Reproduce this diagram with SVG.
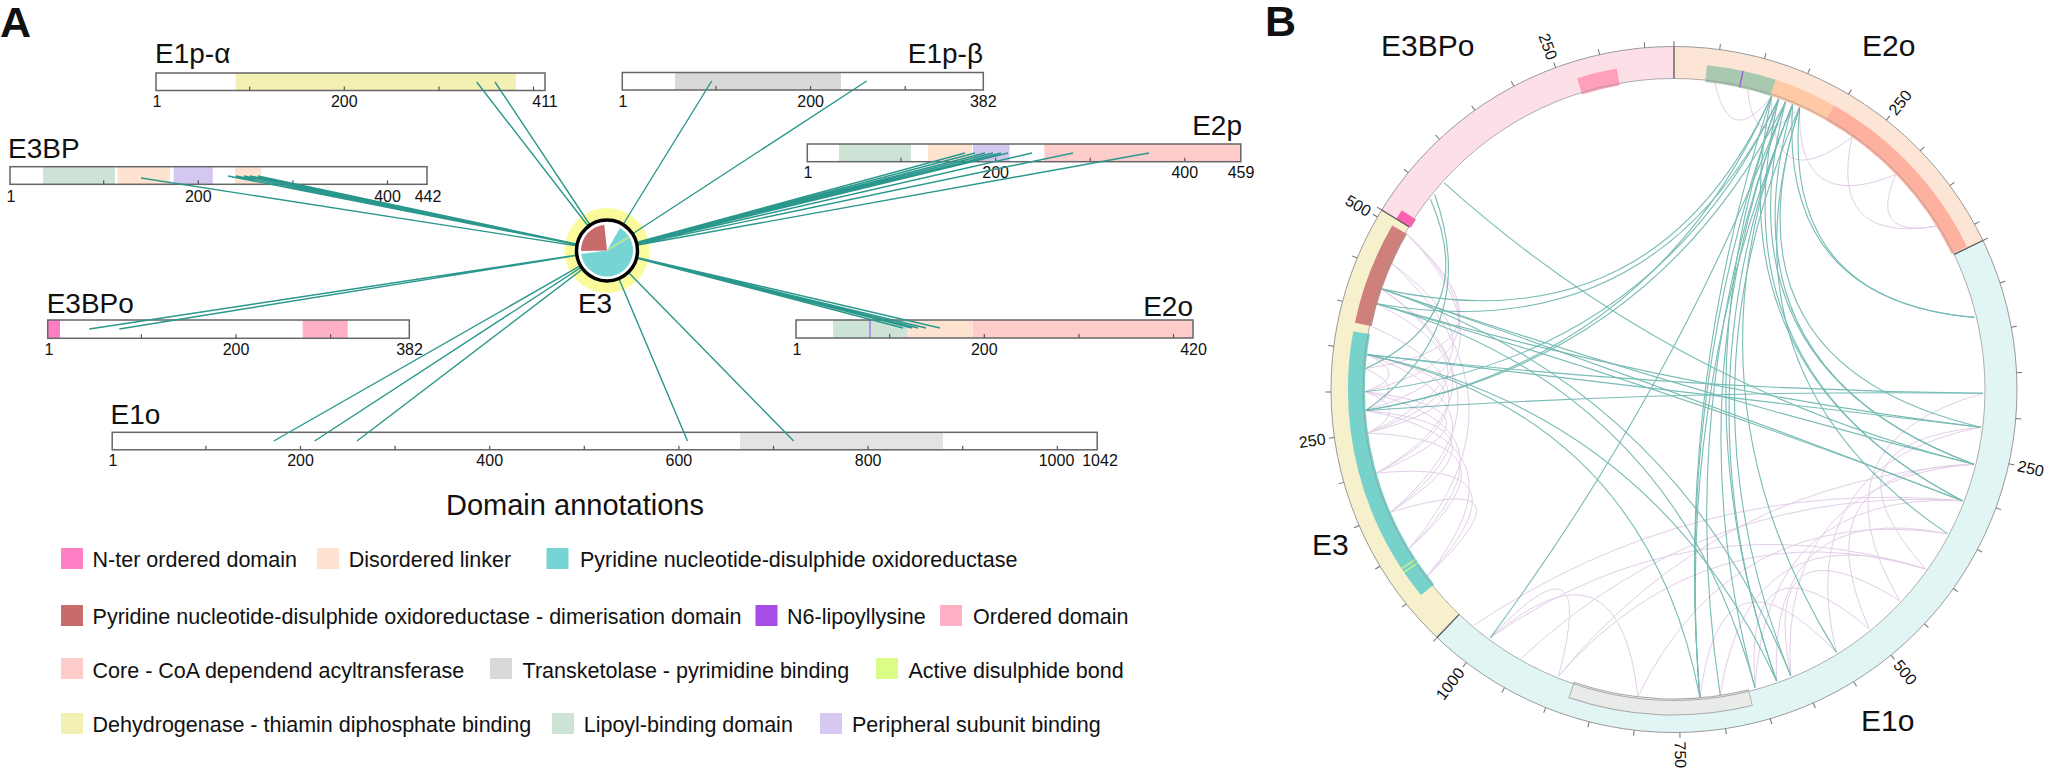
<svg xmlns="http://www.w3.org/2000/svg" width="2047" height="771" viewBox="0 0 2047 771">
<style>
text{font-family:"Liberation Sans",Arial,Helvetica,sans-serif;fill:#111}
.lbl{font-size:28px}
.tk{font-size:16px;text-anchor:middle}
.bar{fill:none;stroke:#666;stroke-width:1.5}
.bt{stroke:#555;stroke-width:1.2;fill:none}
.lnk{stroke:#2a978c;stroke-width:1.4;fill:none}
.leg{font-size:21.5px}
.tc{stroke:#3a9d93;stroke-width:1.1;fill:none;opacity:.68}
.pc{stroke:#c8a0d2;stroke-width:1;fill:none;opacity:.5}
.seg{fill:none;stroke-width:32}
.band{fill:none;stroke-width:17}
.ctk{font-size:16px;dominant-baseline:central}
.cl{font-size:30px}
.big{font-size:43px;font-weight:bold}
</style>
<defs>
<line id="ctick" x1="1674" y1="46.5" x2="1674" y2="41" stroke="#707070" stroke-width="1"/>
<line id="cbd" x1="1674" y1="78.5" x2="1674" y2="46.5" stroke="#555" stroke-width="1.3"/>
</defs>
<rect width="2047" height="771" fill="#fff"/>
<text class="big" x="0" y="37">A</text>
<text class="big" x="1265" y="36">B</text>

<g id="E1p-alpha">
<text class="lbl" x="155" y="63">E1p-α</text>
<rect x="156" y="73" width="389" height="17.5" fill="#fff"/>
<rect x="235.7" y="73" width="280.3" height="17.5" fill="#f2f0b2"/>
<rect class="bar" x="156" y="73" width="389" height="17.5"/>
<path class="bt" d="M249.7 90.5v-4M344.3 90.5v-4M438.9 90.5v-4M533.5 90.5v-4"/>
<text class="tk" x="157" y="107">1</text><text class="tk" x="344.3" y="107">200</text><text class="tk" x="545" y="107">411</text>
</g>
<g id="E1p-beta">
<text class="lbl" x="983" y="63" text-anchor="end">E1p-β</text>
<rect x="622.3" y="72.5" width="361" height="17.5" fill="#fff"/>
<rect x="675" y="72.5" width="166" height="17.5" fill="#d9d9d9"/>
<rect class="bar" x="622.3" y="72.5" width="361" height="17.5"/>
<path class="bt" d="M716 90v-4M810.6 90v-4M905.2 90v-4"/>
<text class="tk" x="623" y="107">1</text><text class="tk" x="810.6" y="107">200</text><text class="tk" x="983.3" y="107">382</text>
</g>
<g id="E3BP">
<text class="lbl" x="8" y="158">E3BP</text>
<rect x="10" y="166.7" width="417" height="17.6" fill="#fff"/>
<rect x="43" y="166.7" width="72" height="17.6" fill="#cce3d5"/>
<rect x="117.5" y="166.7" width="52.5" height="17.6" fill="#ffe3d1"/>
<rect x="173.6" y="166.7" width="39.2" height="17.6" fill="#d5c8f0"/>
<rect x="235" y="166.7" width="26" height="17.6" fill="#ffe3d1"/>
<rect class="bar" x="10" y="166.7" width="417" height="17.6"/>
<path class="bt" d="M103.7 184.3v-4M198.3 184.3v-4M292.9 184.3v-4M387.5 184.3v-4"/>
<text class="tk" x="11" y="201.5">1</text><text class="tk" x="198.3" y="201.5">200</text><text class="tk" x="387.5" y="201.5">400</text><text class="tk" x="428" y="201.5">442</text>
</g>
<g id="E2p">
<text class="lbl" x="1242" y="135" text-anchor="end">E2p</text>
<rect x="807.3" y="144" width="433.5" height="17.7" fill="#fff"/>
<rect x="839" y="144" width="72" height="17.7" fill="#cce3d5"/>
<rect x="928" y="144" width="44" height="17.7" fill="#ffe3d1"/>
<rect x="973" y="144" width="36.6" height="17.7" fill="#d5c8f0"/>
<rect x="1044.3" y="144" width="196.5" height="17.7" fill="#ffcccc"/>
<rect class="bar" x="807.3" y="144" width="433.5" height="17.7"/>
<path class="bt" d="M901 161.7v-4M995.6 161.7v-4M1090.2 161.7v-4M1184.8 161.7v-4"/>
<text class="tk" x="808" y="178">1</text><text class="tk" x="995.6" y="178">200</text><text class="tk" x="1184.8" y="178">400</text><text class="tk" x="1241" y="178">459</text>
</g>
<g id="E3BPo">
<text class="lbl" x="46.7" y="313">E3BPo</text>
<rect x="47.7" y="320" width="361.6" height="18.3" fill="#fff"/>
<rect x="47.7" y="320" width="12.3" height="18.3" fill="#ff7ec4"/>
<rect x="302.7" y="320" width="45" height="18.3" fill="#ffb0c5"/>
<rect class="bar" x="47.7" y="320" width="361.6" height="18.3"/>
<path class="bt" d="M141.4 338.3v-4M236 338.3v-4M330.6 338.3v-4"/>
<text class="tk" x="49" y="354.5">1</text><text class="tk" x="236" y="354.5">200</text><text class="tk" x="409.5" y="354.5">382</text>
</g>
<g id="E2o">
<text class="lbl" x="1193" y="315.5" text-anchor="end">E2o</text>
<rect x="796" y="320" width="397" height="18" fill="#fff"/>
<rect x="833" y="320" width="74.7" height="18" fill="#cce3d5"/>
<rect x="907.7" y="320" width="65" height="18" fill="#ffe3d1"/>
<rect x="972.7" y="320" width="220.3" height="18" fill="#ffcccc"/>
<rect x="869.2" y="320" width="1.6" height="18" fill="#b07ee8"/>
<rect class="bar" x="796" y="320" width="397" height="18"/>
<path class="bt" d="M889.7 338v-4M984.3 338v-4M1078.9 338v-4M1173.5 338v-4"/>
<text class="tk" x="797" y="354.5">1</text><text class="tk" x="984.3" y="354.5">200</text><text class="tk" x="1193.5" y="354.5">420</text>
</g>
<g id="E1o">
<text class="lbl" x="110.6" y="424">E1o</text>
<rect x="112.2" y="432.3" width="985" height="17.5" fill="#fff"/>
<rect x="740" y="432.3" width="203" height="17.5" fill="#e3e3e3"/>
<rect class="bar" x="112.2" y="432.3" width="985" height="17.5"/>
<path class="bt" d="M205.9 449.8v-4M300.5 449.8v-4M395.1 449.8v-4M489.7 449.8v-4M584.3 449.8v-4M678.9 449.8v-4M773.5 449.8v-4M868.1 449.8v-4M962.7 449.8v-4M1057.3 449.8v-4"/>
<text class="tk" x="113" y="466">1</text><text class="tk" x="300.5" y="466">200</text><text class="tk" x="489.7" y="466">400</text><text class="tk" x="678.9" y="466">600</text><text class="tk" x="868.1" y="466">800</text><text class="tk" x="1056.5" y="466">1000</text><text class="tk" x="1100" y="466">1042</text>
</g>

<g id="E3-halo"><circle cx="607" cy="250.5" r="42.5" fill="#fbfb9c"/></g>

<g id="connectors-A" class="lnk">
<path d="M476.7 82L607 250.5M495 82L607 250.5"/>
<path d="M711.7 81L607 250.5M866.7 81L607 250.5"/>
<path d="M141 178L607 250.5M228 176L607 250.5M236 176L607 250.5M244 176L607 250.5M250 176L607 250.5M258 176L607 250.5"/>
<path d="M965 153L607 250.5M975 153L607 250.5M985 153L607 250.5M993 153L607 250.5M1001 153L607 250.5M1008 153L607 250.5M1032 153L607 250.5M1073 153L607 250.5M1149 153L607 250.5"/>
<path d="M89.3 329L607 250.5M119.3 329L607 250.5"/>
<path d="M903 328L607 250.5M912 328L607 250.5M918 328L607 250.5M926 328L607 250.5M940 328L607 250.5"/>
<path d="M273.8 441L607 250.5M314.6 441L607 250.5M357 441L607 250.5M687.5 441L607 250.5M793.7 441L607 250.5"/>
</g>

<g id="E3">
<circle cx="607" cy="250.5" r="30.5" fill="#fff" stroke="#000" stroke-width="3.5"/>
<path d="M607 250.5L620 227.98A26 26 0 1 1 581.25 254.12Z" fill="#76d4d4"/>
<path d="M607 250.5L581 250.95A26 26 0 0 1 604.28 224.64Z" fill="#c96b6b"/>
<path d="M607 250.5L628.7 236.2M607 250.5L629.5 237.5" stroke="#d8f080" stroke-width="0.8"/>
<text class="lbl" x="595" y="313" text-anchor="middle">E3</text>
</g>

<g id="legend">
<text x="575" y="515" text-anchor="middle" style="font-size:29px">Domain annotations</text>
<rect x="61" y="548" width="22" height="21" fill="#ff7ec4"/><text class="leg" x="92.6" y="566.5">N-ter ordered domain</text>
<rect x="317" y="548" width="22" height="21" fill="#ffe2cf"/><text class="leg" x="348.7" y="566.5">Disordered linker</text>
<rect x="546.5" y="548" width="22" height="21" fill="#76d4d4"/><text class="leg" x="580" y="566.5">Pyridine nucleotide-disulphide oxidoreductase</text>
<rect x="61" y="605" width="22" height="21" fill="#c96b6b"/><text class="leg" x="92.6" y="624">Pyridine nucleotide-disulphide oxidoreductase - dimerisation domain</text>
<rect x="755.5" y="605" width="22" height="21" fill="#a64de8"/><text class="leg" x="787" y="624">N6-lipoyllysine</text>
<rect x="940" y="605" width="22" height="21" fill="#ffb0c5"/><text class="leg" x="973" y="624">Ordered domain</text>
<rect x="61" y="658" width="22" height="21" fill="#ffcccc"/><text class="leg" x="92.6" y="678">Core - CoA dependend acyltransferase</text>
<rect x="490" y="658" width="22" height="21" fill="#d9d9d9"/><text class="leg" x="522.6" y="678">Transketolase - pyrimidine binding</text>
<rect x="876" y="658" width="22" height="21" fill="#dcfc88"/><text class="leg" x="908.5" y="678">Active disulphide bond</text>
<rect x="61" y="713" width="22" height="21" fill="#f2f0b2"/><text class="leg" x="92.6" y="732">Dehydrogenase - thiamin diphosphate binding</text>
<rect x="552" y="713" width="22" height="21" fill="#cce3d5"/><text class="leg" x="583.7" y="732">Lipoyl-binding domain</text>
<rect x="820" y="713" width="22" height="21" fill="#d6c8f0"/><text class="leg" x="852" y="732">Peripheral subunit binding</text>
</g>

<g id="chords">
<g class="pc">
<path d="M1427.5 575.9Q1538 457 1376.5 473.1"/>
<path d="M1409.1 548.6Q1530.5 429.8 1365 391.7"/>
<path d="M1390.4 512.2Q1526.4 411.4 1367 354.5"/>
<path d="M1409.1 548.6Q1531.3 440.2 1368.1 433"/>
<path d="M1376.5 473.1Q1526.6 385.3 1381.8 288.9"/>
<path d="M1368.1 433Q1523.3 379 1377.1 303.8"/>
<path d="M1365.7 410.5Q1526.4 363.2 1391.9 263.3"/>
<path d="M1365 391.7Q1530 351.2 1406.9 234.1"/>
<path d="M1390.4 512.2Q1526 425.4 1365.7 410.5"/>
<path d="M1427.5 575.9Q1541.5 466.8 1390.4 512.2"/>
<path d="M1376.5 473.1Q1524 394.6 1371.5 326.3"/>
<path d="M1368.1 433Q1520.8 391.6 1367 354.5"/>
<path d="M1409.1 548.6Q1537.3 397.7 1391.9 263.3"/>
<path d="M1390.4 512.2Q1530 395 1381.8 288.9"/>
<path d="M1427.5 575.9Q1535.3 441.3 1365.7 410.5"/>
<path d="M1365.7 368.5Q1530.2 345.4 1406.9 234.1"/>
<path d="M1376.5 473.1Q1522.4 411 1365 391.7"/>
<path d="M1368.1 433Q1530.8 361.5 1406.9 234.1"/>
<path d="M1365.7 410.5Q1411.9 389.5 1365.7 368.5"/>
<path d="M1368.1 433Q1412.7 408.9 1365 391.7"/>
<path d="M1365 391.7Q1412.2 375.6 1367 354.5"/>
<path d="M1973.8 464.2Q1720.1 479.8 1558.5 676.1"/>
<path d="M1962.3 500.7Q1707.9 484.5 1521.4 658.2"/>
<path d="M1973.8 464.2Q1778.1 479.7 1790.7 675.6"/>
<path d="M1962.3 500.7Q1766.3 491.9 1755 687.7"/>
<path d="M1947.3 533.6Q1768 498.4 1776.6 681"/>
<path d="M1925.6 568.9Q1748.5 510.7 1720.2 695"/>
<path d="M1899.6 600.6Q1759.6 513.8 1790.7 675.6"/>
<path d="M1980.7 427.2Q1791.3 464.7 1836.4 652.4"/>
<path d="M1973.8 464.2Q1797.8 468 1869.3 628.9"/>
<path d="M1947.3 533.6Q1733.3 502.3 1637.9 696.4"/>
<path d="M1925.6 568.9Q1708 506 1558.5 676.1"/>
<path d="M1983 393.3Q1807.7 443.2 1899.6 600.6"/>
<path d="M1869.3 628.9Q1743.1 523.9 1755 687.7"/>
<path d="M1836.4 652.4Q1721.1 532.2 1699.9 697.4"/>
<path d="M1962.3 500.7Q1696.1 476.2 1474.1 625.2"/>
<path d="M1980.7 427.2Q1813.6 443.8 1925.6 568.9"/>
<path d="M1558.5 676.1Q1599.2 523.3 1490.2 637.9"/>
<path d="M1637.9 696.4Q1619 528.3 1490.2 637.9"/>
<path d="M1490.2 637.9Q1691 496.5 1925.6 568.9"/>
<path d="M1715.1 83.2Q1729.4 149.7 1771.5 96.3"/>
<path d="M1747.7 89.4Q1753.8 156.5 1799.7 107.2"/>
<path d="M1799.7 107.2Q1795.7 215.4 1895.9 174.5"/>
<path d="M1852.1 137Q1828.1 244 1936.3 226.2"/>
<path d="M1771.5 96.3Q1770.5 198.5 1852.1 137"/>
<path d="M1895.9 174.5Q1867.7 238.2 1936.3 226.2"/>
</g>
<g class="tc">
<path d="M1444.2 182.9Q1674 389.5 1973.8 464.2"/>
<path d="M1430.5 199.2Q1480.9 315.5 1365.7 368.5"/>
<path d="M1434.6 194.2Q1482.3 328.5 1365.7 410.5"/>
<path d="M1381.8 288.9Q1674 389.5 1962.3 500.7"/>
<path d="M1381.8 288.9Q1674 389.5 1973.8 464.2"/>
<path d="M1377.1 303.8Q1674 389.5 1980.7 427.2"/>
<path d="M1377.1 303.8Q1674 389.5 1962.3 500.7"/>
<path d="M1367 354.5Q1674 389.5 1983 393.3"/>
<path d="M1365.7 410.5Q1674 389.5 1983 393.3"/>
<path d="M1367 354.5Q1674 389.5 1980.7 427.2"/>
<path d="M1367 354.5Q1653.6 415.2 1776.6 681"/>
<path d="M1381.8 288.9Q1674 389.5 1790.7 675.6"/>
<path d="M1377.1 303.8Q1674 389.5 1755 687.7"/>
<path d="M1771.5 96.3Q1654.5 350.1 1381.8 288.9"/>
<path d="M1778.7 98.8Q1654.8 351.9 1377.1 303.8"/>
<path d="M1771.5 96.3Q1652.9 362.3 1365.7 410.5"/>
<path d="M1785.7 101.4Q1654.3 362.8 1365.7 410.5"/>
<path d="M1778.7 98.8Q1653.6 360.7 1365 391.7"/>
<path d="M1771.5 96.3Q1674 389.5 1699.9 697.4"/>
<path d="M1778.7 98.8Q1674 389.5 1699.9 697.4"/>
<path d="M1785.7 101.4Q1674 389.5 1720.2 695"/>
<path d="M1792.7 104.2Q1674 389.5 1699.9 697.4"/>
<path d="M1785.7 101.4Q1674 389.5 1755 687.7"/>
<path d="M1792.7 104.2Q1674 389.5 1776.6 681"/>
<path d="M1799.7 107.2Q1674 389.5 1790.7 675.6"/>
<path d="M1778.7 98.8Q1674 389.5 1776.6 681"/>
<path d="M1792.7 104.2Q1674 389.5 1836.4 652.4"/>
<path d="M1771.5 96.3Q1712.6 371.3 1962.3 500.7"/>
<path d="M1778.7 98.8Q1713.3 371.6 1962.3 500.7"/>
<path d="M1785.7 101.4Q1715.2 368.2 1973.8 464.2"/>
<path d="M1792.7 104.2Q1715.9 368.4 1973.8 464.2"/>
<path d="M1799.7 107.2Q1717.2 365 1980.7 427.2"/>
<path d="M1799.7 107.2Q1780.6 300.9 1974.5 317.4"/>
<path d="M1792.7 104.2Q1778.8 300.2 1974.5 317.4"/>
<path d="M1785.7 101.4Q1674 389.5 1490.2 637.9"/>
<path d="M1799.7 107.2Q1713.9 375.7 1947.3 533.6"/>
<path d="M1367 354.5Q1645.9 416.8 1699.9 697.4"/>
</g>
</g>

<g id="ring-E2o">
<circle class="seg" cx="1674" cy="389.5" r="327" stroke="#fde5d5" stroke-dasharray="366.7 3000" transform="rotate(-90 1674 389.5)"/>
<circle class="band" cx="1674" cy="389.5" r="317.5" stroke="#a9c8b0" stroke-dasharray="68.7 3000" transform="rotate(-84.2 1674 389.5)"/>
<circle class="band" cx="1674" cy="389.5" r="317.5" stroke="#ffc9a6" stroke-dasharray="62.1 3000" transform="rotate(-71.8 1674 389.5)"/>
<circle class="band" cx="1674" cy="389.5" r="317.5" stroke="#ffb1a0" stroke-dasharray="191.7 3000" transform="rotate(-60.6 1674 389.5)"/>
<circle class="band" cx="1674" cy="389.5" r="317.5" stroke="#a060e0" stroke-dasharray="1.5 3000" transform="rotate(-77.9 1674 389.5)"/>
<text class="cl" x="1862" y="55.5">E2o</text>
</g>
<g id="ring-E1o">
<circle class="seg" cx="1674" cy="389.5" r="327" stroke="#e2f5f5" stroke-dasharray="909.9 3000" transform="rotate(-25.74 1674 389.5)"/>
<circle class="band" cx="1674" cy="389.5" r="317.5" stroke="#aaaaaa" stroke-dasharray="182.3 3000" transform="rotate(76 1674 389.5)"/>
<circle cx="1674" cy="389.5" r="317.5" fill="none" stroke-width="15" stroke="#e9ebe8" stroke-dasharray="180.6 3000" transform="rotate(76.15 1674 389.5)"/>
<text class="cl" x="1861" y="731">E1o</text>
</g>
<g id="ring-E3">
<circle class="seg" cx="1674" cy="389.5" r="327" stroke="#f6f1cc" stroke-dasharray="444.4 3000" transform="rotate(133.69 1674 389.5)"/>
<circle class="band" cx="1674" cy="389.5" r="317.5" stroke="#d0807a" stroke-dasharray="102 3000" transform="rotate(191.8 1674 389.5)"/>
<circle class="band" cx="1674" cy="389.5" r="317.5" stroke="#76d2cb" stroke-dasharray="273.7 3000" transform="rotate(140.9 1674 389.5)"/>
<circle class="band" cx="1674" cy="389.5" r="317.5" stroke="#ddf77a" stroke-dasharray="1.2 3.2 1.2 3000" transform="rotate(145.8 1674 389.5)"/>
<text class="cl" x="1312" y="555">E3</text>
</g>
<g id="ring-E3BPo">
<circle class="seg" cx="1674" cy="389.5" r="327" stroke="#fde0e7" stroke-dasharray="333.5 3000" transform="rotate(211.56 1674 389.5)"/>
<circle class="band" cx="1674" cy="389.5" r="317.5" stroke="#ff5fb3" stroke-dasharray="10.2 3000" transform="rotate(211.56 1674 389.5)"/>
<circle class="band" cx="1674" cy="389.5" r="317.5" stroke="#ff9fba" stroke-dasharray="39.9 3000" transform="rotate(252.7 1674 389.5)"/>
<text class="cl" x="1381" y="55.5">E3BPo</text>
</g>
<g id="ring-axes">
<circle cx="1674" cy="389.5" r="343" fill="none" stroke="#9a9a9a" stroke-width="1"/>
<circle cx="1674" cy="389.5" r="311" fill="none" stroke="#9a9a9a" stroke-width="0.8"/>
<use href="#cbd"/>
<use href="#cbd" transform="rotate(64.26 1674 389.5)"/>
<use href="#cbd" transform="rotate(223.69 1674 389.5)"/>
<use href="#cbd" transform="rotate(301.56 1674 389.5)"/>
<use href="#ctick"/>
<use href="#ctick" transform="rotate(7.65 1674 389.5)"/><use href="#ctick" transform="rotate(15.3 1674 389.5)"/><use href="#ctick" transform="rotate(22.95 1674 389.5)"/><use href="#ctick" transform="rotate(30.6 1674 389.5)"/><use href="#ctick" transform="rotate(38.25 1674 389.5)"/><use href="#ctick" transform="rotate(45.9 1674 389.5)"/><use href="#ctick" transform="rotate(53.55 1674 389.5)"/><use href="#ctick" transform="rotate(61.2 1674 389.5)"/>
<use href="#ctick" transform="rotate(64.26 1674 389.5)"/><use href="#ctick" transform="rotate(71.91 1674 389.5)"/><use href="#ctick" transform="rotate(79.56 1674 389.5)"/><use href="#ctick" transform="rotate(87.21 1674 389.5)"/><use href="#ctick" transform="rotate(94.86 1674 389.5)"/><use href="#ctick" transform="rotate(102.51 1674 389.5)"/><use href="#ctick" transform="rotate(110.16 1674 389.5)"/><use href="#ctick" transform="rotate(117.81 1674 389.5)"/><use href="#ctick" transform="rotate(125.46 1674 389.5)"/><use href="#ctick" transform="rotate(133.11 1674 389.5)"/><use href="#ctick" transform="rotate(140.76 1674 389.5)"/><use href="#ctick" transform="rotate(148.41 1674 389.5)"/><use href="#ctick" transform="rotate(156.06 1674 389.5)"/><use href="#ctick" transform="rotate(163.71 1674 389.5)"/><use href="#ctick" transform="rotate(171.36 1674 389.5)"/><use href="#ctick" transform="rotate(179.01 1674 389.5)"/><use href="#ctick" transform="rotate(186.66 1674 389.5)"/><use href="#ctick" transform="rotate(194.31 1674 389.5)"/><use href="#ctick" transform="rotate(201.96 1674 389.5)"/><use href="#ctick" transform="rotate(209.61 1674 389.5)"/><use href="#ctick" transform="rotate(217.26 1674 389.5)"/>
<use href="#ctick" transform="rotate(223.69 1674 389.5)"/><use href="#ctick" transform="rotate(231.34 1674 389.5)"/><use href="#ctick" transform="rotate(238.99 1674 389.5)"/><use href="#ctick" transform="rotate(246.64 1674 389.5)"/><use href="#ctick" transform="rotate(254.29 1674 389.5)"/><use href="#ctick" transform="rotate(261.94 1674 389.5)"/><use href="#ctick" transform="rotate(269.59 1674 389.5)"/><use href="#ctick" transform="rotate(277.24 1674 389.5)"/><use href="#ctick" transform="rotate(284.89 1674 389.5)"/><use href="#ctick" transform="rotate(292.54 1674 389.5)"/><use href="#ctick" transform="rotate(300.19 1674 389.5)"/>
<use href="#ctick" transform="rotate(301.56 1674 389.5)"/><use href="#ctick" transform="rotate(309.21 1674 389.5)"/><use href="#ctick" transform="rotate(316.86 1674 389.5)"/><use href="#ctick" transform="rotate(324.51 1674 389.5)"/><use href="#ctick" transform="rotate(332.16 1674 389.5)"/><use href="#ctick" transform="rotate(339.81 1674 389.5)"/><use href="#ctick" transform="rotate(347.46 1674 389.5)"/><use href="#ctick" transform="rotate(355.11 1674 389.5)"/>
<text class="ctk" x="2026" y="389.5" transform="rotate(-51.75 1674 389.5)">250</text>
<text class="ctk" x="2026" y="389.5" transform="rotate(12.51 1674 389.5)">250</text>
<text class="ctk" x="2026" y="389.5" transform="rotate(50.76 1674 389.5)">500</text>
<text class="ctk" x="2026" y="389.5" transform="rotate(89.01 1674 389.5)">750</text>
<text class="ctk" x="1322" y="389.5" text-anchor="end" transform="rotate(-52.74 1674 389.5)">1000</text>
<text class="ctk" x="1322" y="389.5" text-anchor="end" transform="rotate(-8.06 1674 389.5)">250</text>
<text class="ctk" x="1322" y="389.5" text-anchor="end" transform="rotate(30.19 1674 389.5)">500</text>
<text class="ctk" x="1322" y="389.5" text-anchor="end" transform="rotate(69.81 1674 389.5)">250</text>
</g>
</svg>
